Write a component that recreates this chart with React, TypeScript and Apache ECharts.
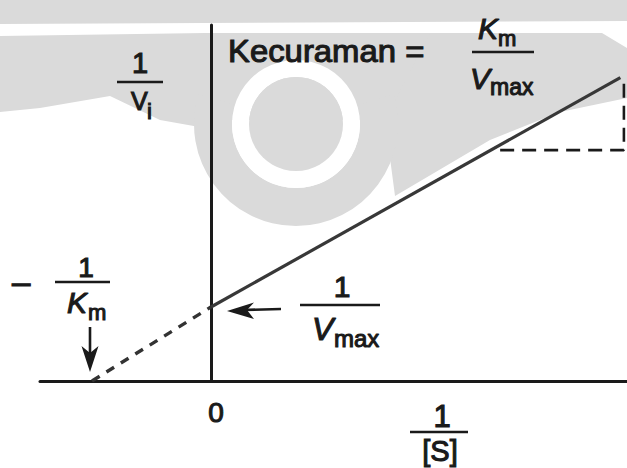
import React, { useEffect, useRef } from "react";
import * as echarts from "echarts";

const W = 627;
const H = 468;
const INK = "#1a1a1a";
const WM = "#dadada";
const FONT = '"Liberation Sans", Arial, Helvetica, sans-serif';

// Lineweaver–Burk plot: 1/[S] on x, 1/v on y, axis units with Km = Vmax = 1
const negInvKm = -1; // x-intercept  −1/Km
const invVmax = 1; // y-intercept  1/Vmax
const extrapolated: [number, number][] = [
  [negInvKm, 0],
  [0, invVmax],
];
const measured: [number, number][] = [
  [0, invVmax],
  [3.44, 4.1],
];
const slopeTriangle: [number, number][] = [
  [2.43, 3.12],
  [3.47, 3.12],
  [3.47, 4.1],
];
const xRange: [number, number] = [-1.437, 3.496];
const yRange: [number, number] = [0, 4.81];

type TxtOpt = { italic?: boolean; align?: "left" | "center" | "right"; scaleX?: number };

function txt(text: string, x: number, baseline: number, size: number, opt: TxtOpt = {}) {
  return {
    type: "text",
    x,
    y: baseline - 0.35 * size,
    scaleX: opt.scaleX ?? 1,
    z: 100,
    silent: true,
    style: {
      text,
      fontSize: size,
      fontFamily: FONT,
      fontStyle: opt.italic ? "italic" : "normal",
      fill: INK,
      stroke: INK,
      lineWidth: 1.1,
      align: opt.align ?? "left",
      verticalAlign: "middle",
    },
  };
}

function bar(x1: number, x2: number, y: number) {
  return {
    type: "line",
    z: 100,
    silent: true,
    shape: { x1, y1: y, x2, y2: y },
    style: { stroke: INK, lineWidth: 2.4 },
  };
}

// faint emblem printed behind the figure
function watermark() {
  const s = { fill: WM };
  const base = { z: -10, silent: true };
  return [
    { type: "polygon", ...base, shape: { points: [[0, 0], [627, 0], [627, 21], [0, 24]] }, style: s },
    {
      type: "polygon",
      ...base,
      shape: { points: [[0, 36], [205, 33], [205, 128], [160, 120], [110, 96], [40, 108], [0, 112]] },
      style: s,
    },
    {
      type: "polygon",
      ...base,
      shape: { points: [[205, 33], [430, 33], [430, 120], [205, 120]] },
      style: s,
    },
    {
      type: "polygon",
      ...base,
      shape: {
        points: [[430, 33], [602, 33], [627, 48], [627, 98], [560, 112], [490, 140], [395, 196], [385, 120]],
      },
      style: s,
    },
    {
      type: "sector",
      ...base,
      shape: { cx: 296, cy: 124, r0: 64, r: 102, startAngle: -0.3, endAngle: Math.PI + 0.3, clockwise: true },
      style: s,
    },
    { type: "ring", ...base, z: -9, shape: { cx: 296, cy: 124, r0: 47, r: 64 }, style: { fill: "#ffffff" } },
    { type: "circle", ...base, z: -8, shape: { cx: 296, cy: 124, r: 47 }, style: s },
  ];
}

export default function App() {
  const ref = useRef<HTMLDivElement>(null);

  useEffect(() => {
    if (!ref.current) return;
    const chart = echarts.init(ref.current, undefined, { renderer: "svg", width: W, height: H });

    const axisCommon = {
      type: "value" as const,
      axisLine: { show: true, onZero: true, lineStyle: { color: INK, width: 3 } },
      axisTick: { show: false },
      axisLabel: { show: false },
      splitLine: { show: false },
    };

    chart.setOption({
      animation: false,
      backgroundColor: "#ffffff",
      grid: { left: 40, right: 0, top: 25, bottom: 87 },
      xAxis: { ...axisCommon, min: xRange[0], max: xRange[1] },
      yAxis: { ...axisCommon, min: yRange[0], max: yRange[1] },
      series: [
        {
          name: "extrapolated",
          type: "line",
          data: extrapolated,
          symbol: "none",
          lineStyle: { color: "#333333", width: 3.4, type: [9, 8] },
          z: 3,
        },
        {
          name: "measured",
          type: "line",
          data: measured,
          symbol: "none",
          lineStyle: { color: "#383838", width: 3.2 },
          z: 3,
        },
        {
          name: "slope",
          type: "line",
          data: slopeTriangle,
          symbol: "none",
          lineStyle: { color: INK, width: 2.6, type: [14, 8] },
          z: 3,
        },
      ],
    });

    const [kx, ky] = chart.convertToPixel({ gridIndex: 0 }, [negInvKm, 0]) as number[];
    const [vx, vy] = chart.convertToPixel({ gridIndex: 0 }, [0, invVmax]) as number[];

    // arrow pointing down at −1/Km
    const dTipX = kx - 2;
    const dTipY = ky - 9;
    // arrow pointing left at 1/Vmax
    const lTipX = vx + 16;
    const lTipY = vy + 4;

    const arrows = [
      {
        type: "line",
        z: 100,
        silent: true,
        shape: { x1: dTipX, y1: dTipY - 45, x2: dTipX, y2: dTipY - 15 },
        style: { stroke: INK, lineWidth: 2.6 },
      },
      {
        type: "polygon",
        z: 100,
        silent: true,
        shape: {
          points: [
            [dTipX, dTipY],
            [dTipX - 8.5, dTipY - 26],
            [dTipX, dTipY - 19],
            [dTipX + 8.5, dTipY - 26],
          ],
        },
        style: { fill: INK },
      },
      {
        type: "line",
        z: 100,
        silent: true,
        shape: { x1: lTipX + 15, y1: lTipY - 1, x2: lTipX + 54, y2: lTipY - 2 },
        style: { stroke: INK, lineWidth: 2.6 },
      },
      {
        type: "polygon",
        z: 100,
        silent: true,
        shape: {
          points: [
            [lTipX, lTipY],
            [lTipX + 27, lTipY - 8.5],
            [lTipX + 20, lTipY - 1],
            [lTipX + 27, lTipY + 8],
          ],
        },
        style: { fill: INK },
      },
    ];

    const labels = [
      // 1 / v_i
      txt("1", 140, 73, 29, { align: "center" }),
      bar(117, 163, 82),
      txt("V", 131, 110, 25),
      txt("i", 147, 119, 22),
      // Kecuraman = Km / Vmax
      txt("Kecuraman =", 228, 62, 31, { scaleX: 1.06 }),
      txt("K", 478, 39, 30, { italic: true }),
      txt("m", 498, 46, 22),
      bar(472, 534, 52),
      txt("V", 470, 89, 30, { italic: true }),
      txt("max", 490, 95, 23),
      // − 1 / Km
      txt("–", 12, 293, 33),
      txt("1", 86, 277, 28, { align: "center" }),
      bar(55, 110, 282),
      txt("K", 67, 313, 30, { italic: true }),
      txt("m", 88, 320, 22),
      // 1 / Vmax
      txt("1", 342, 297, 30, { align: "center" }),
      bar(300, 380, 305),
      txt("V", 312, 340, 32, { italic: true }),
      txt("max", 334, 347, 24),
      // 0 and 1/[S]
      txt("0", 216, 422, 28, { align: "center" }),
      txt("1", 442, 427, 31, { align: "center" }),
      bar(410, 468, 432),
      txt("[S]", 440, 461, 29, { align: "center" }),
    ];

    chart.setOption({ graphic: [...watermark(), ...arrows, ...labels] });

    return () => chart.dispose();
  }, []);

  return (
    <div
      ref={ref}
      style={{ position: "fixed", left: 0, top: 0, width: W, height: H, background: "#ffffff" }}
    />
  );
}
